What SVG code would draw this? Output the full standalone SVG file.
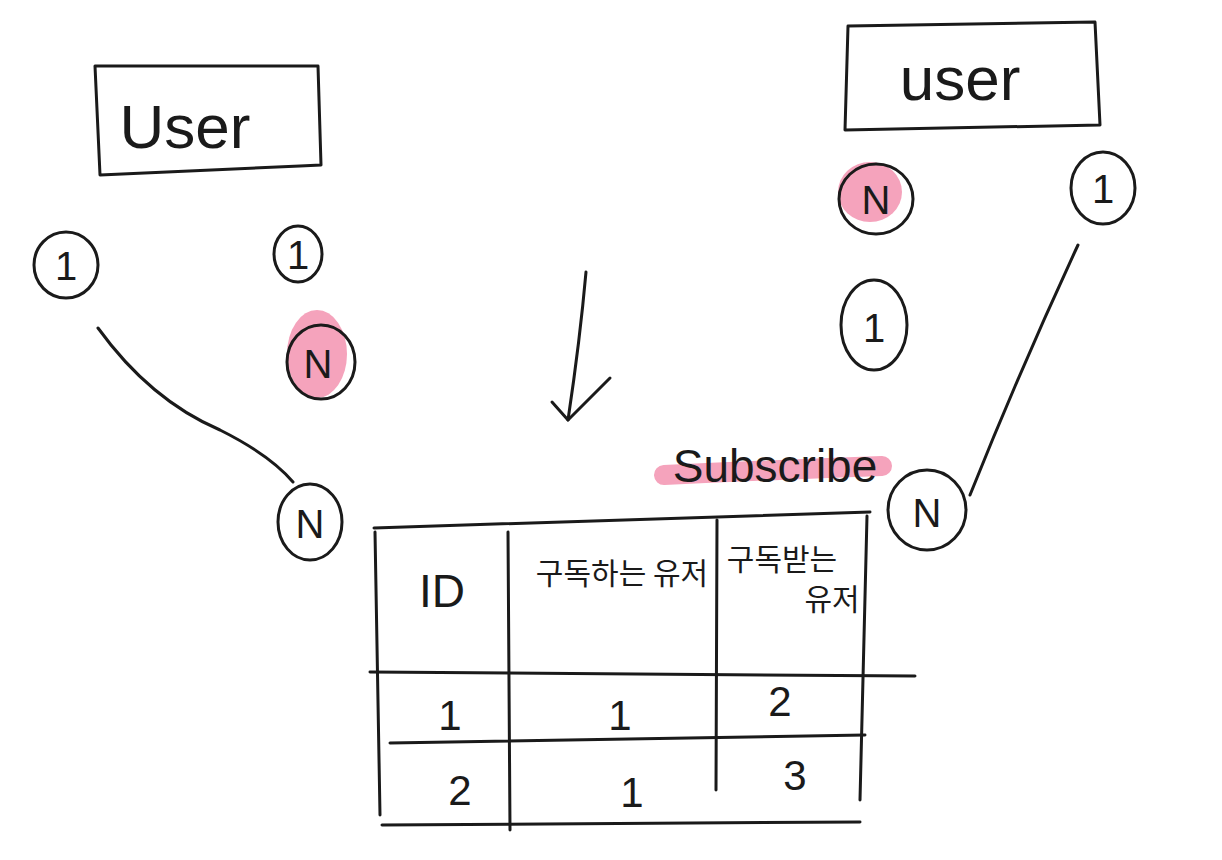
<svg xmlns="http://www.w3.org/2000/svg" width="1222" height="860" viewBox="0 0 1222 860">
<style>
.ln{fill:none;stroke:#1a1a1a;stroke-width:3;stroke-linecap:round;stroke-linejoin:round}
.c{fill:none;stroke:#1a1a1a;stroke-width:3}
.t{font-family:"Liberation Sans","Noto Sans CJK KR",sans-serif;fill:#1a1a1a;text-anchor:middle}
.big{font-size:62px}
.lbl{font-size:40px}
.num{font-size:42px}
.kr{font-size:30px;font-family:"Noto Sans CJK KR",sans-serif}
.pink{fill:#f5a3bc}
</style>
<rect width="1222" height="860" fill="#ffffff"/>
<g id="user-left">
<path class="ln" d="M95,66 L318,66 L321,165 L300,166 L100,175 Z"/>
<text class="t big" x="185" y="148">User</text>
</g>
<g id="user-right">
<path class="ln" d="M848,26 L1095,22 L1100,125 L845,130 Z"/>
<text class="t big" x="960" y="100">user</text>
</g>
<g id="c-left-1">
<ellipse class="c" cx="66" cy="265" rx="32" ry="33"/>
<text class="t lbl" x="66" y="280">1</text>
</g>
<g id="c-left-1b">
<ellipse class="c" cx="298" cy="254" rx="24" ry="28"/>
<text class="t lbl" x="298" y="269">1</text>
</g>
<g id="c-left-n-pink">
<ellipse class="pink" cx="317" cy="354" rx="30" ry="44"/>
<ellipse class="c" cx="321" cy="362" rx="34" ry="37"/>
<text class="t lbl" x="318" y="378">N</text>
</g>
<g id="c-left-n">
<ellipse class="c" cx="310" cy="522" rx="32" ry="38"/>
<text class="t lbl" x="310" y="538">N</text>
</g>
<g id="c-right-n-pink">
<ellipse class="pink" cx="870" cy="192" rx="32" ry="30"/>
<ellipse class="c" cx="876" cy="199" rx="37" ry="35"/>
<text class="t lbl" x="876" y="214">N</text>
</g>
<g id="c-right-1">
<ellipse class="c" cx="1103" cy="188" rx="32" ry="36"/>
<text class="t lbl" x="1103" y="203">1</text>
</g>
<g id="c-right-1b">
<ellipse class="c" cx="874" cy="325" rx="33" ry="45"/>
<text class="t lbl" x="874" y="342">1</text>
</g>
<g id="c-right-n">
<ellipse class="c" cx="927" cy="510" rx="39" ry="40"/>
<text class="t lbl" x="927" y="527">N</text>
</g>
<g id="subscribe-label">
<path d="M664,475 Q770,470 882,466" fill="none" stroke="#f5a3bc" stroke-width="20" stroke-linecap="round"/>
<text class="t" x="775" y="482" font-size="46">Subscribe</text>
</g>
<g id="table">
<path class="ln" d="M374,528 L870,512"/>
<path class="ln" d="M375,532 L380,815"/>
<path class="ln" d="M508,532 L510,830"/>
<path class="ln" d="M717,520 L716,790"/>
<path class="ln" d="M867,516 L860,800"/>
<path class="ln" d="M370,672 L915,676"/>
<path class="ln" d="M390,743 L865,735"/>
<path class="ln" d="M382,825 L860,822"/>
<text class="t" x="442" y="607" font-size="46">ID</text>
<text class="t kr" x="622" y="584">구독하는 유저</text>
<text class="t kr" x="782" y="570">구독받는</text>
<text class="t kr" x="832" y="610">유저</text>
<text class="t num" x="450" y="730">1</text>
<text class="t num" x="620" y="730">1</text>
<text class="t num" x="780" y="716">2</text>
<text class="t num" x="460" y="805">2</text>
<text class="t num" x="632" y="807">1</text>
<text class="t num" x="795" y="790">3</text>
</g>
<g id="connectors">
<path class="ln" d="M98,328 Q150,400 220,430 Q270,455 293,482"/>
<path class="ln" d="M1078,245 Q1020,370 970,495"/>
<path class="ln" d="M586,272 Q580,340 568,420"/>
<path class="ln" d="M552,402 L568,420 L610,378"/>
</g>
</svg>
